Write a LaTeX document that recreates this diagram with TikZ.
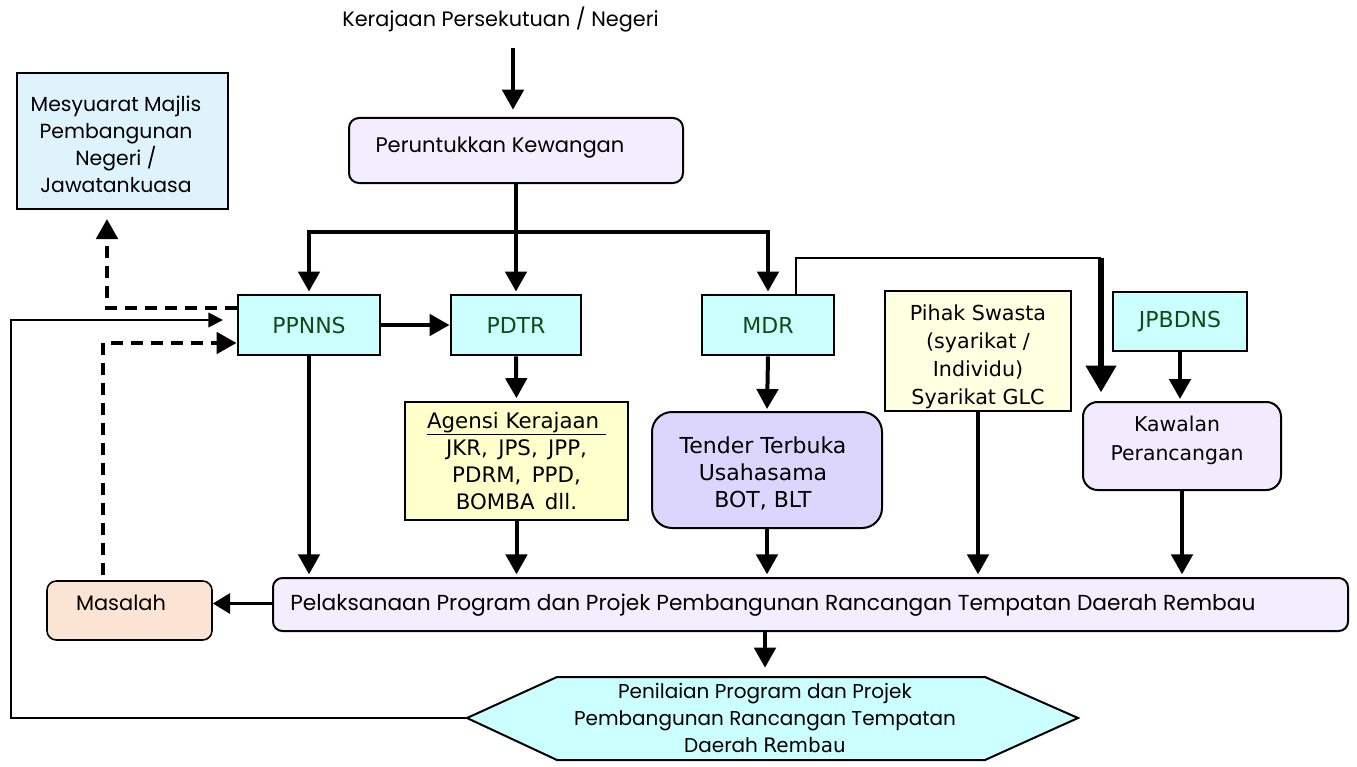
\documentclass[tikz,border=0pt]{standalone}
\usepackage{fontspec}
\setmainfont{Poppins}
\newfontfamily\verd{DejaVu Sans}
\usetikzlibrary{arrows.meta,calc}
\definecolor{lav}{RGB}{243,238,253}
\definecolor{cy}{RGB}{204,255,255}
\definecolor{mesblue}{RGB}{223,243,253}
\definecolor{ylw}{RGB}{255,255,225}
\definecolor{ylw2}{RGB}{255,255,204}
\definecolor{tend}{RGB}{220,214,253}
\definecolor{kawc}{RGB}{243,234,253}
\definecolor{masc}{RGB}{252,228,212}
\definecolor{dgreen}{RGB}{15,75,20}
\tikzset{
  sq/.style={draw, line width=2.2pt, inner sep=0pt},
  rbox/.style={draw, line width=1.5pt, inner sep=0pt},
  cg/.style={font=\fontsize{15}{20.25}\selectfont, align=center, inner sep=0pt},
  vd/.style={font=\verd\fontsize{15.5}{20.25}\selectfont, align=center, inner sep=0pt},
  gr/.style={font=\verd\fontsize{16.5}{20}\selectfont, text=dgreen},
  arr/.style={line width=3pt, -{Triangle[length=15pt,width=16pt]}},
  bigarr/.style={line width=4.5pt, -{Triangle[length=20pt,width=22pt]}},
  smarr/.style={line width=2.6pt, -{Triangle[length=13pt,width=15pt]}},
  dsh/.style={line width=3pt, dash pattern=on 9pt off 6pt, -{Triangle[length=15pt,width=16pt]}},
  thinarr/.style={line width=1.3pt, -{Triangle[length=11pt,width=11pt]}},
}
\begin{document}
\begin{tikzpicture}[x=0.75pt,y=-0.75pt]
\useasboundingbox (0,0) rectangle (1357,767);

% title and allocation
\node[cg, font=\fontsize{15.6}{18}\selectfont] (ker) at (500.5,20) {Kerajaan Persekutuan / Negeri};
\node[rbox, fill=lav, rounded corners=7.5pt, minimum width=250.5pt, minimum height=48.75pt] (per) at (516,150.5) {};
\node[cg, font=\fontsize{15.8}{20}\selectfont] (pert) at (500,148) {Peruntukkan Kewangan};
\coordinate (kera) at (513,48);
\draw[arr, shorten >=5.5pt] (kera) -- (per.north -| kera);

% left meeting box
\node[sq, fill=mesblue, minimum width=158.25pt, minimum height=102pt] (mes) at (122.5,141) {};
\node[cg, font=\fontsize{15.3}{20.25}\selectfont] (mest) at (116,144) {Mesyuarat Majlis\\Pembangunan\\Negeri /\\Jawatankuasa};

% agencies row
\node[sq, fill=cy, minimum width=106.5pt, minimum height=45pt, gr] (ppnns) at (309,325) {PPNNS};
\node[sq, fill=cy, minimum width=97.5pt, minimum height=45pt, gr] (pdtr) at (516,325) {PDTR};
\node[sq, fill=cy, minimum width=99pt, minimum height=45pt, gr] (mdr) at (768,325) {MDR};
\node[sq, line width=1.8pt, fill=ylw, minimum width=139.5pt, minimum height=90pt] (pihak) at (978,351) {};
\node[vd, font=\verd\fontsize{15.5}{21}\selectfont] (pihakt) at (978,357) {Pihak Swasta\\(syarikat /\\Individu)\\Syarikat GLC};
\node[sq, fill=cy, minimum width=100.5pt, minimum height=44.25pt, gr] (jpb) at (1180,321.5) {JPBDNS};

% second row
\node[sq, line width=1.8pt, fill=ylw2, minimum width=167.25pt, minimum height=88.5pt, vd, font=\verd\fontsize{16}{20.25}\selectfont] (agen) at (516.5,461) {\underline{Agensi Kerajaan\ }\\JKR,\,  JPS,\, JPP,\\PDRM,\, PPD,\\BOMBA\, dll.};
\node[rbox, fill=tend, rounded corners=15pt, minimum width=172.5pt, minimum height=87pt] (tender) at (767,470) {};
\node[vd, font=\verd\fontsize{16.5}{20.25}\selectfont] (tendert) at (763,473) {Tender Terbuka\\Usahasama\\BOT, BLT};
\node[rbox, fill=kawc, rounded corners=11pt, minimum width=148.5pt, minimum height=66pt] (kaw) at (1182,446) {};
\node[vd, font=\verd\fontsize{15.3}{21.75}\selectfont] (kawt) at (1177,440) {Kawalan\\Perancangan};

% implementation
\node[rbox, fill=lav, rounded corners=7pt, minimum width=806.25pt, minimum height=39.75pt] (pel) at (810.5,604.5) {};
\node[cg, anchor=west, font=\fontsize{16.3}{20}\selectfont] (pelt) at (290,605) {Pelaksanaan Program dan Projek Pembangunan Rancangan Tempatan Daerah Rembau};
\node[rbox, line width=1.2pt, fill=masc, rounded corners=7pt, minimum width=123.75pt, minimum height=44.25pt] (mas) at (129.5,610.5) {};
\node[cg, font=\fontsize{15.7}{20}\selectfont] (mast) at (121,603) {Masalah};

% evaluation hexagon
\coordinate (hL) at (467,718);
\coordinate (hT) at (765,677);
\draw[line width=1.5pt, fill=cy] (hL) -- (557,677) -- (985,677) -- (1078,718) -- (985,760) -- (557,760) -- cycle;
\node[cg] (hext) at (765,718) {Penilaian Program dan Projek\\Pembangunan Rancangan Tempatan\\Daerah {\verd Rembau}};

% connectors from allocation
\coordinate (br) at (516,232);
\draw[arr, shorten >=1.5pt] (per.south) -- (pdtr.north);
\draw[arr, shorten >=1.5pt] (br) -| (ppnns.north);
\draw[arr, shorten >=1.5pt] (br) -| (mdr.north);
\draw[arr] (ppnns.east) -- (pdtr.west);
\draw[arr, shorten >=2pt] (pdtr.south) -- (agen.north);
\draw[arr, shorten >=1.5pt] (mdr.south) -- (tender.north);

% MDR to Kawalan
\coordinate (kc) at (1101,258);
\draw[line width=2.2pt] ([xshift=21pt]mdr.north) |- (kc);
\draw[bigarr, shorten >=6.5pt] (kc) -- (kaw.north -| kc);
\draw[arr, shorten >=1.5pt] (jpb.south) -- (kaw.north -| jpb.south);

% to implementation
\draw[arr, shorten >=2pt] (ppnns.south) -- (pel.north -| ppnns.south);
\draw[arr, shorten >=2pt] (agen.south) -- (pel.north -| agen.south);
\draw[arr, shorten >=2pt] (tender.south) -- (pel.north -| tender.south);
\draw[arr, shorten >=2pt] (pihak.south) -- (pel.north -| pihak.south);
\draw[arr, shorten >=2pt] (kaw.south) -- (pel.north -| kaw.south);
\draw[smarr] (pel.west |- mas.east) ++(0,-7) coordinate (pw) -- (mas.east |- pw);
\draw[arr, shorten >=7pt] (pel.south -| hT) -- (hT);

% feedback loops
\coordinate (mesin) at (107,219);
\draw[dsh] ([yshift=12.75pt]ppnns.west) -| (mesin);
\coordinate (masout) at (103,575);
\draw[dsh] (masout) |- ([yshift=-13.5pt]ppnns.west);
\coordinate (ppin) at (223,320);
\draw[thinarr] (hL) -- (11,718) -- (11,320) -- (ppin);
\end{tikzpicture}
\end{document}
